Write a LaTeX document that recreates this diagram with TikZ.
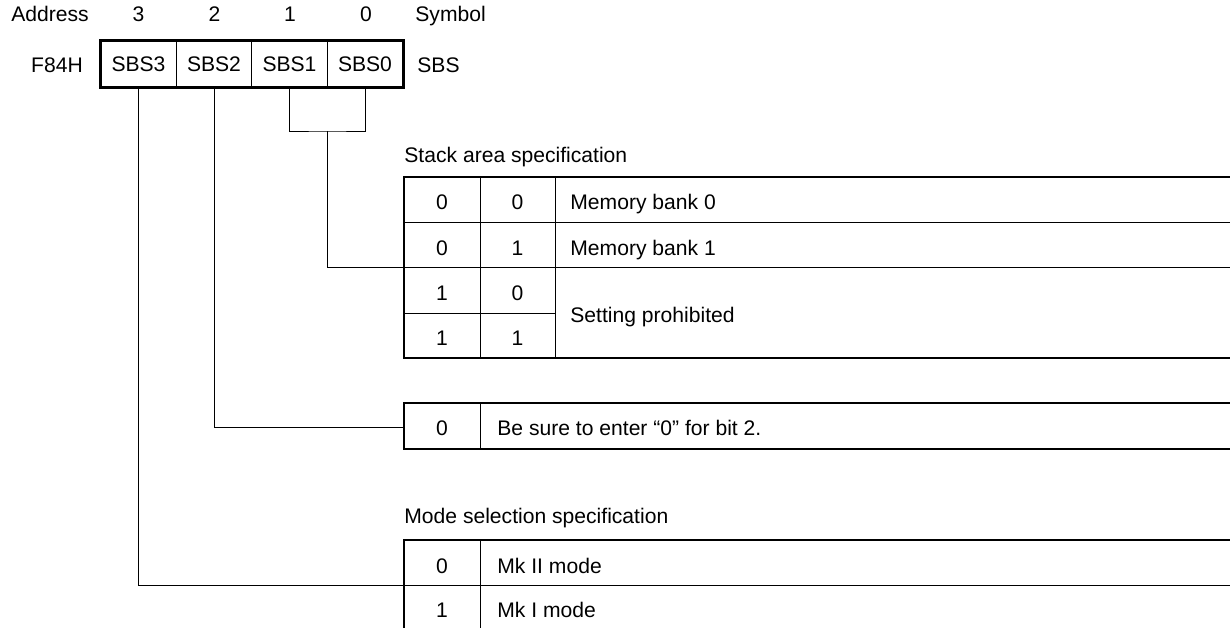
\documentclass[tikz,border=0pt]{standalone}
\usepackage{fontspec}
\setmainfont{Liberation Sans}
\begin{document}
\begin{tikzpicture}[x=0.5pt, y=-0.5pt, font=\fontsize{10.55}{12}\selectfont,
	regbit/.style={draw, line width=0.5pt, minimum width=37.75pt, minimum height=23pt, inner sep=0pt},
	frame/.style={line width=1.3pt},
	rule/.style={line width=0.5pt},
	wire/.style={line width=0.5pt},
	lbl/.style={inner sep=0pt, anchor=base},
	txt/.style={inner sep=0pt, anchor=base west}]
\clip (0,0) rectangle (1230,627);

	%% Register
\begin{scope}
	\node[lbl] (addr) at (50,21) {Address};
	\node[lbl] (b3) at (138.5,21) {3};
	\node[lbl] (b2) at (214.5,21) {2};
	\node[lbl] (b1) at (290,21) {1};
	\node[lbl] (b0) at (366,21) {0};
	\node[txt] (sym) at (415,21) {Symbol};
	\node[lbl] (f84h) at (57,72) {F84H};
	\node[txt] (sbs) at (417,72) {SBS};
	\node[regbit] (sbs3) at (138.5,64) {SBS3};
	\node[regbit] (sbs2) at (214,64) {SBS2};
	\node[regbit] (sbs1) at (289.5,64) {SBS1};
	\node[regbit] (sbs0) at (365,64) {SBS0};
	\draw[frame] (sbs3.north west) rectangle (sbs0.south east);
	%%%%%%%%%%%%%%%%
\end{scope}

	%% Stack area specification
\begin{scope}
	\node[txt] (stackttl) at (404,162) {Stack area specification};
	\draw[rule] (404,222) -- (1240,222);
	\draw[rule] (404,267) -- (1240,267);
	\draw[rule] (404,313) -- (555,313);
	\draw[rule] (480,177) -- (480,358);
	\draw[rule] (555,177) -- (555,358);
	\draw[frame] (1240,177) -- (404,177) -- (404,358) -- (1240,358);
	\node[lbl] (s00a) at (442,209) {0};
	\node[lbl] (s00b) at (517.5,209) {0};
	\node[txt] (s00) at (570,209) {Memory bank 0};
	\node[lbl] (s01a) at (442,255) {0};
	\node[lbl] (s01b) at (517.5,255) {1};
	\node[txt] (s01) at (570,255) {Memory bank 1};
	\node[lbl] (s10a) at (442,300) {1};
	\node[lbl] (s10b) at (517.5,300) {0};
	\node[lbl] (s11a) at (442,345) {1};
	\node[lbl] (s11b) at (517.5,345) {1};
	\node[txt] (s1x) at (570,322) {Setting prohibited};
	\coordinate (stackin) at (404,267);
\end{scope}

	%% Bit 2
\begin{scope}
	\draw[rule] (480,403) -- (480,449);
	\draw[frame] (1240,403) -- (404,403) -- (404,449) -- (1240,449);
	\node[lbl] (z0) at (442,435) {0};
	\node[txt] (zero) at (497,435) {Be sure to enter “0” for bit 2.};
	\coordinate (zeroin) at (404,427);
\end{scope}

	%% Mode selection specification
\begin{scope}
	\node[txt] (modettl) at (404,523) {Mode selection specification};
	\draw[rule] (404,585) -- (1240,585);
	\draw[rule] (480,540) -- (480,640);
	\draw[frame] (1240,540) -- (404,540) -- (404,640);
	\node[lbl] (m0) at (442,573) {0};
	\node[txt] (mk2) at (497,573) {Mk II mode};
	\node[lbl] (m1) at (442,617) {1};
	\node[txt] (mk1) at (497,617) {Mk I mode};
	\coordinate (modein) at (404,585);
\end{scope}

	%% Leitungen
	\coordinate (stackjoin) at (327.5,131);
	\draw[wire] (sbs1.south) |- (stackjoin) -| (sbs0.south);
	\draw[wire] (stackjoin) |- (stackin);
	\draw[wire] (sbs2.south) |- (zeroin);
	\draw[wire] (sbs3.south) |- (modein);
\end{tikzpicture}
\end{document}
